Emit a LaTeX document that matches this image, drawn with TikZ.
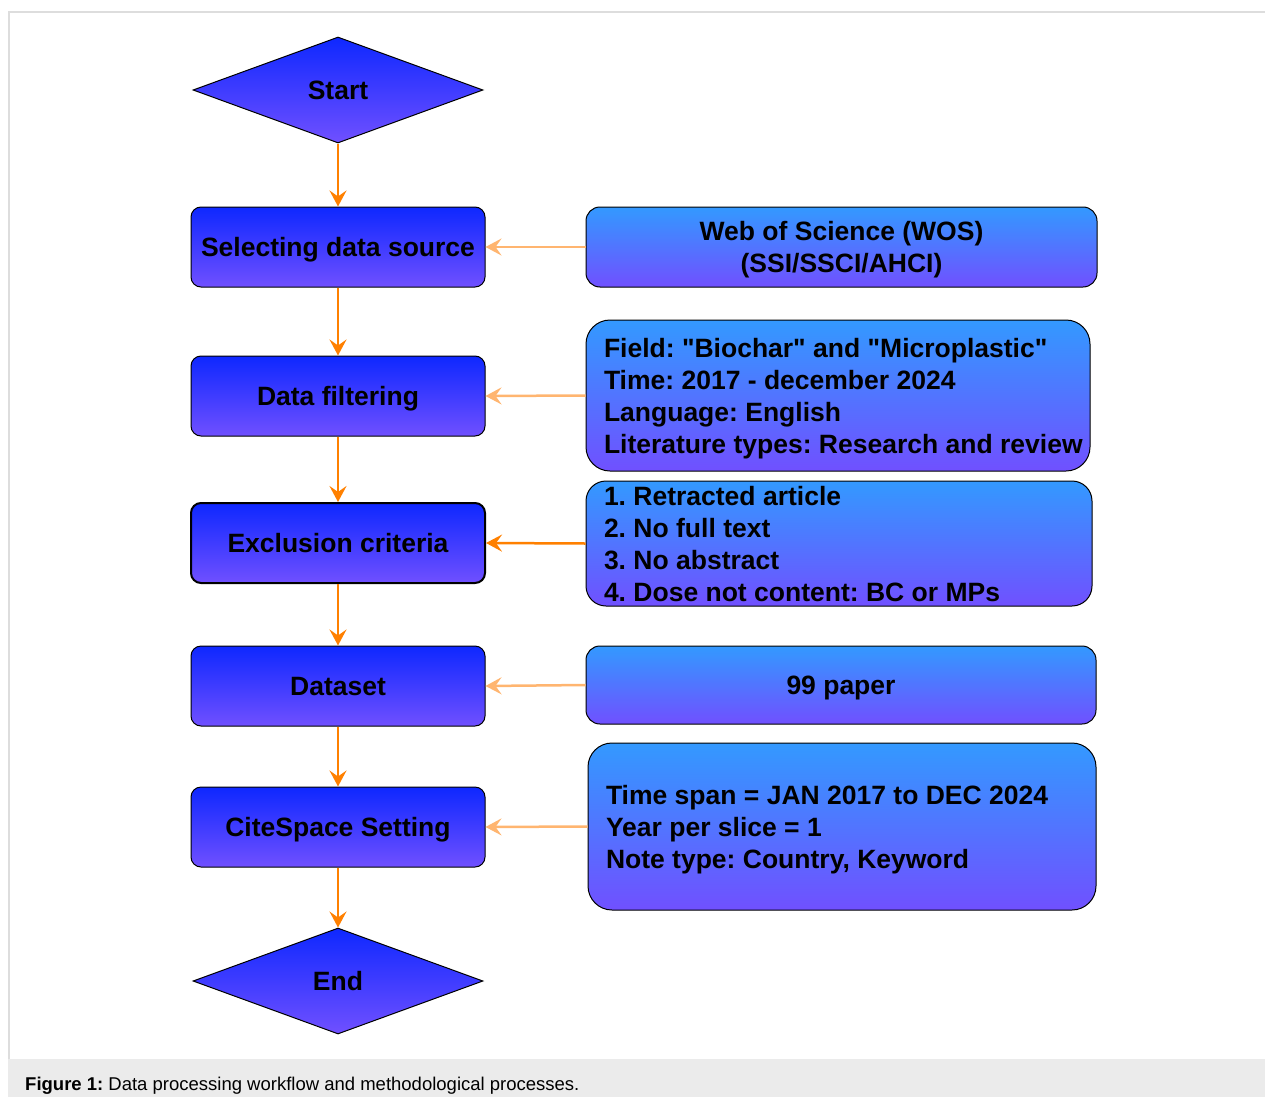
\documentclass[tikz,border=0pt]{standalone}
\usepackage{fontspec}
\setmainfont{Liberation Sans}[Ligatures=TeXOff]
\usetikzlibrary{shapes.geometric,arrows.meta}
\definecolor{lbtop}{RGB}{14,40,255}
\definecolor{lbbot}{RGB}{112,80,255}
\definecolor{rbtop}{RGB}{51,153,255}
\definecolor{orangeA}{RGB}{255,128,0}
\definecolor{orangeL}{RGB}{255,181,112}
\definecolor{framegray}{RGB}{221,221,221}
\definecolor{capgray}{RGB}{235,235,235}
% multi-line text block: width, height of block, alignment (l/c), lines
\newcommand\mlblock[4]{\makebox[#1][#3]{\ifx l#3\hspace{18pt}\fi\raisebox{0pt}[#2][0pt]{\begin{tabular}[b]{@{}#3@{}}#4\end{tabular}}}}
\tikzset{
  txt/.style={font=\fontsize{26.5}{32}\selectfont\bfseries\frenchspacing, text=black},
  flowbox/.style={txt, draw=black, line width=1pt, rounded corners=10pt,
    top color=lbtop, bottom color=lbbot, minimum width=294pt, minimum height=80pt,
    inner sep=0pt, text height=19pt, text depth=0pt},
  flowdiam/.style={txt, draw=black, line width=1pt, diamond, aspect=2.74,
    top color=lbtop, bottom color=lbbot, minimum width=290pt, minimum height=106pt,
    inner sep=0pt, text height=19pt, text depth=0pt},
  infobox/.style={txt, draw=black, line width=1pt, rounded corners=#1,
    top color=rbtop, bottom color=lbbot, inner sep=0pt},
  infobox/.default=14pt,
  tip/.style={-{Stealth[length=16pt,width=17pt,inset=6pt]}},
  varrow/.style={draw=orangeA, line width=2.5pt, tip},
  harrow/.style={draw=orangeL, line width=2.5pt, tip},
  harrowD/.style={draw=orangeA, line width=2.5pt, tip},
}
\begin{document}
\frenchspacing
\begin{tikzpicture}[x=1pt,y=-1pt]
\useasboundingbox (0,0) rectangle (1265,1097);
% frame and caption band
\fill[capgray] (8,1059) rectangle (1265,1097);
\draw[framegray, line width=1.5pt] (9,1059) -- (9,12) -- (1265,12);
\node[anchor=base west, inner sep=0pt, font=\fontsize{18.5}{20}\selectfont\frenchspacing] (cap) at (25,1090)
  {\textbf{Figure 1:} Data processing workflow and methodological processes.};

% left column
\node[flowdiam] (start) at (338,90) {Start};
\node[flowbox] (sel) at (338,247) {Selecting data source};
\node[flowbox] (filt) at (338,396) {Data filtering};
\node[flowbox, line width=2pt] (excl) at (338,543) {Exclusion criteria};
\node[flowbox] (data) at (338,686) {Dataset};
\node[flowbox] (cite) at (338,827) {CiteSpace Setting};
\node[flowdiam] (end) at (338,981) {End};

% right column
\node[infobox, minimum height=80pt] (wos) at (841.5,247)
  {\mlblock{511pt}{51pt}{c}{Web of Science (WOS)\\(SSI/SSCI/AHCI)}};
\node[infobox=24pt, minimum height=151pt] (field) at (838,395.5)
  {\mlblock{504pt}{115pt}{l}{Field: "Biochar" and "Microplastic"\\Time: 2017 - december 2024\\Language: English\\Literature types: Research and review}};
\node[infobox=20pt, minimum height=125pt] (crit) at (839,543.5)
  {\mlblock{506pt}{115pt}{l}{1. Retracted article\\2. No full text\\3. No abstract\\4. Dose not content: BC or MPs}};
\node[infobox, minimum width=510pt, minimum height=78pt, text height=19pt, text depth=0pt] (paper) at (841,685)
  {99 paper};
\node[infobox=24pt, minimum height=167pt] (set) at (842,826.5)
  {\mlblock{508pt}{83pt}{l}{Time span = JAN 2017 to DEC 2024\\Year per slice = 1\\Note type: Country, Keyword}};

% vertical arrows
\draw[varrow] (start.south) -- (sel.north);
\draw[varrow] (sel.south) -- (filt.north);
\draw[varrow] (filt.south) -- (excl.north);
\draw[varrow] (excl.south) -- (data.north);
\draw[varrow] (data.south) -- (cite.north);
\draw[varrow] (cite.south) -- (end.north);

% horizontal arrows
\draw[harrow] (wos.west) -- (sel.east);
\draw[harrow] (field.west) -- (filt.east);
\draw[harrowD] (crit.west) -- (excl.east);
\draw[harrow] (paper.west) -- (data.east);
\draw[harrow] (set.west) -- (cite.east);
\end{tikzpicture}
\end{document}
